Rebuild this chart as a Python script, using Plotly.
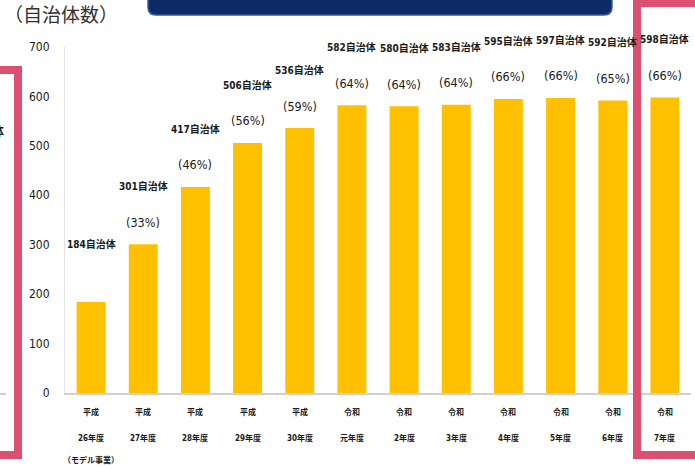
import plotly.graph_objects as go

# ---- data ----
era = ["平成", "平成", "平成", "平成", "平成", "令和", "令和", "令和", "令和", "令和", "令和", "令和"]
years = ["26年度", "27年度", "28年度", "29年度", "30年度", "元年度", "2年度", "3年度", "4年度", "5年度", "6年度", "7年度"]
notes = ["（モデル事業）", "", "", "", "", "", "", "", "", "", "", ""]
counts = [184, 301, 417, 506, 536, 582, 580, 583, 595, 597, 592, 598]
pcts = [None, 33, 46, 56, 59, 64, 64, 64, 66, 66, 65, 66]
yticks = [0, 100, 200, 300, 400, 500, 600, 700]
unit_title = "（自治体数）"

W, H = 695, 469
L, R, T, B = 65, 4, 47, 76
PW, PH = W - L - R, H - T - B

def px(x):
    return (x - L) / PW

def py(y):
    return (H - B - y) / PH

cats = [e + y for e, y in zip(era, years)]
FONT = "Liberation Sans Narrow, DejaVu Sans Condensed, Noto Sans CJK JP, sans-serif"
TXT = "#1a1a1a"

fig = go.Figure()
fig.add_trace(go.Bar(x=cats, y=counts, marker=dict(color="#FFC000", line=dict(width=0)),
                     hoverinfo="skip"))

ann = []
for c, v, p in zip(cats, counts, pcts):
    ann.append(dict(x=c, y=v, xref="x", yref="y", text=f"<b>{v}自治体</b>", showarrow=False,
                    yshift=58, yanchor="middle", font=dict(family=FONT, size=10, color=TXT)))
    if p is not None:
        ann.append(dict(x=c, y=v, xref="x", yref="y", text=f"({p}%)", showarrow=False,
                        yshift=22, yanchor="middle", font=dict(family=FONT, size=12.5, color=TXT)))

for c, e, y, n in zip(cats, era, years, notes):
    for txt, ypix in ((e, 412), (y, 438), (n, 460)):
        if txt:
            ann.append(dict(x=c, y=py(ypix), xref="x", yref="paper", text=f"<b>{txt}</b>",
                            showarrow=False, yanchor="middle",
                            font=dict(family=FONT, size=8, color=TXT)))

ann.append(dict(x=px(2), y=py(13), xref="paper", yref="paper", text=unit_title, showarrow=False,
                xanchor="left", yanchor="middle",
                font=dict(family="Noto Sans CJK JP", size=19, color="#333333")))
ann.append(dict(x=px(6), y=py(130), xref="paper", yref="paper", text="<b>体</b>", showarrow=False,
                xanchor="right", yanchor="middle",
                font=dict(family="Noto Sans CJK JP", size=12, color=TXT)))

# banner with rounded bottom corners
bx0, bx1, by0, by1, r = 148, 612, 15, -10, 8
rx, ry = r / PW, r / PH
banner = (f"M {px(bx0)},{py(by1)} L {px(bx0)},{py(by0) + ry} "
          f"Q {px(bx0)},{py(by0)} {px(bx0) + rx},{py(by0)} "
          f"L {px(bx1) - rx},{py(by0)} Q {px(bx1)},{py(by0)} {px(bx1)},{py(by0) + ry} "
          f"L {px(bx1)},{py(by1)} Z")

shapes = [
    dict(type="path", xref="paper", yref="paper", path=banner,
         fillcolor="#0B2A66", line=dict(color="#3A5A9A", width=1.5), layer="above"),
    dict(type="rect", xref="paper", yref="paper", x0=px(-30), x1=px(18), y0=py(455), y1=py(70),
         line=dict(color="#DB4F70", width=8), fillcolor="rgba(0,0,0,0)", layer="above"),
    dict(type="rect", xref="paper", yref="paper", x0=px(637), x1=px(730), y0=py(455), y1=py(3),
         line=dict(color="#DB4F70", width=8), fillcolor="rgba(0,0,0,0)", layer="above"),
    dict(type="line", xref="paper", yref="paper", x0=px(0), x1=px(6), y0=py(394), y1=py(394),
         line=dict(color="#BFBFBF", width=1.5)),
]

fig.update_layout(
    width=W, height=H,
    margin=dict(l=L, r=R, t=T, b=B, pad=0),
    paper_bgcolor="white", plot_bgcolor="white",
    showlegend=False, bargap=0.445,
    annotations=ann, shapes=shapes,
    xaxis=dict(type="category", showticklabels=False, ticks="", showgrid=False,
               showline=True, linecolor="#D0D0D0", linewidth=2, zeroline=False,
               range=[-0.5, len(cats) - 0.5], fixedrange=True),
    yaxis=dict(range=[0, 700], tickvals=yticks, ticktext=[str(t) for t in yticks],
               showgrid=False, zeroline=False, showline=True, linecolor="#E3E3E3",
               linewidth=1, ticks="", ticklabelstandoff=12,
               tickfont=dict(family=FONT, size=12, color=TXT), fixedrange=True),
)

fig.write_html("out.html", config={"displayModeBar": False},
               post_script="document.body.style.margin='0';document.body.style.padding='0';"
                           "document.body.style.overflow='hidden';")
